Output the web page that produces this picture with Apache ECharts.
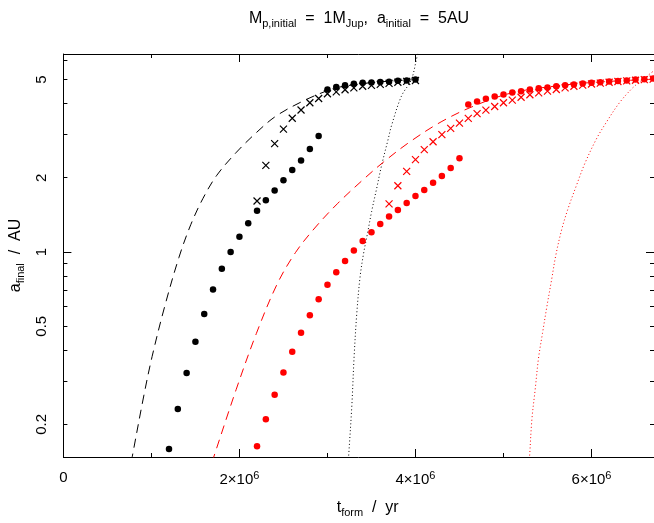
<!DOCTYPE html>
<html>
<head>
<meta charset="utf-8">
<script src="https://cdn.jsdelivr.net/npm/echarts@6/dist/echarts.min.js"></script>
<style>html,body{margin:0;padding:0;background:#fff}#c{width:654px;height:523px}</style>
</head>
<body>
<div id="c"></div>
<script>
// ---- data (t_form in yr, a_final in AU) ----
const blackDotsT = [1.2e6,1.3e6,1.4e6,1.5e6,1.6e6,1.7e6,1.8e6,1.9e6,2.0e6,2.1e6,2.2e6,2.3e6,2.4e6,2.5e6,2.6e6,2.7e6,2.8e6,2.9e6,3.0e6,3.1e6,3.2e6,3.3e6,3.4e6,3.5e6,3.6e6,3.7e6,3.8e6,3.9e6,4.0e6];
const blackDotsA = [0.159,0.231,0.323,0.433,0.561,0.704,0.855,1.00,1.152,1.307,1.468,1.62,1.777,1.954,2.151,2.35,2.618,2.953,4.555,4.67,4.74,4.815,4.85,4.87,4.89,4.90,4.95,4.96,5.0];

const blackCrossT = [2.2e6,2.3e6,2.4e6,2.5e6,2.6e6,2.7e6,2.8e6,2.9e6,3.0e6,3.1e6,3.2e6,3.3e6,3.4e6,3.5e6,3.6e6,3.7e6,3.8e6,3.9e6,4.0e6];
const blackCrossA = [1.61,2.244,2.75,3.15,3.485,3.763,4.03,4.19,4.38,4.46,4.55,4.63,4.70,4.74,4.78,4.83,4.88,4.92,4.96];

const redDotsT = [2.2e6,2.3e6,2.4e6,2.5e6,2.6e6,2.7e6,2.8e6,2.9e6,3.0e6,3.1e6,3.2e6,3.3e6,3.4e6,3.5e6,3.6e6,3.7e6,3.8e6,3.9e6,4.0e6,4.1e6,4.2e6,4.3e6,4.4e6,4.5e6,
  4.6e6,4.7e6,4.8e6,4.9e6,5.0e6,5.1e6,5.2e6,5.3e6,5.4e6,5.5e6,5.6e6,5.7e6,5.8e6,5.9e6,6.0e6,6.1e6,6.2e6,6.3e6,6.4e6,6.5e6,6.6e6,6.7e6];
const redDotsA = [0.163,0.210,0.264,0.325,0.394,0.470,0.554,0.643,0.737,0.828,0.92,1.015,1.107,1.202,1.30,1.394,1.48,1.58,1.686,1.782,1.908,2.035,2.19,2.40,
  3.96,4.08,4.18,4.27,4.35,4.43,4.49,4.56,4.61,4.65,4.70,4.74,4.78,4.82,4.85,4.88,4.91,4.94,4.96,5.0,5.02,5.05];

const redCrossT = [3.7e6,3.8e6,3.9e6,4.0e6,4.1e6,4.2e6,4.3e6,4.4e6,4.5e6,4.6e6,4.7e6,4.8e6,4.9e6,5.0e6,5.1e6,5.2e6,5.3e6,5.4e6,5.5e6,5.6e6,5.7e6,5.8e6,5.9e6,6.0e6,6.1e6,6.2e6,6.3e6,6.4e6,6.5e6,6.6e6,6.7e6];
const redCrossA = [1.566,1.856,2.123,2.37,2.60,2.80,2.99,3.17,3.33,3.48,3.64,3.76,3.89,4.03,4.13,4.24,4.34,4.42,4.49,4.56,4.63,4.70,4.75,4.80,4.84,4.88,4.91,4.94,4.97,5.00,5.02];

const blackDashT = [0.770e6,0.792e6,0.913e6,1.008e6,1.149e6,1.312e6,1.447e6,1.586e6,1.743e6,1.967e6,2.193e6,2.417e6,2.721e6,2.964e6,3.119e6,3.50e6,4.0e6];
const blackDashA = [0.14,0.1545,0.2607,0.377,0.598,0.949,1.29,1.65,2.047,2.54,3.05,3.56,4.09,4.46,4.65,4.86,5.0];

const redDashT = [1.688e6,1.708e6,1.963e6,2.193e6,2.429e6,2.636e6,2.856e6,3.118e6,3.419e6,3.637e6,3.930e6,4.291e6,4.662e6,5.098e6,5.642e6,6.09e6,6.71e6];
const redDashA = [0.14,0.1475,0.277,0.468,0.742,0.994,1.251,1.576,1.985,2.316,2.786,3.37,3.905,4.42,4.73,4.89,5.02];

const blackDotLineT = [3.235e6,3.240e6,3.277e6,3.303e6,3.333e6,3.370e6,3.409e6,3.456e6,3.502e6,3.559e6,3.615e6,3.690e6,3.727e6,3.840e6,3.953e6,4.009e6,4.03e6];
const blackDotLineA = [0.14,0.1475,0.238,0.377,0.562,0.789,0.98,1.195,1.46,1.81,2.244,2.87,3.246,4.28,5.0,6.0,6.5];

const redDotLineT = [5.29e6,5.296e6,5.323e6,5.360e6,5.398e6,5.443e6,5.492e6,5.548e6,5.593e6,5.661e6,5.735e6,5.830e6,5.923e6,6.055e6,6.167e6,6.318e6,6.468e6,6.580e6,6.70e6];
const redDotLineA = [0.14,0.1475,0.210,0.277,0.371,0.468,0.598,0.777,0.964,1.232,1.505,1.866,2.28,2.87,3.35,4.03,4.63,5.0,5.4];

const xMajorTicks = [0,2e6,4e6,6e6];
const xMinorTicks = [1e6,3e6,5e6];
const yLabelTicks = [0.2,0.5,1,2,5];
const yMajorTicks = [1];
const yMinorTicks = [0.2,0.3,0.4,0.5,0.6,0.7,0.8,0.9,2,3,4,5,6];

// ---- chart ----
const FONT = 'Liberation Sans';
const zip = (t, a) => t.map((v, i) => [v, a[i]]);
const crossPath = 'path://M0,0L10,10M10,0L0,10';

const X_MIN = 0, X_MAX = 6.71e6, Y_MIN = 0.1475, Y_MAX = 6.35;
const subStyle = {fontSize: 11, fontFamily: FONT, color: '#000', padding: [10,0,0,0]};

function xAxis(pos, ticks, len, showLine, labels) {
  return {
    type: 'value', position: pos, min: X_MIN, max: X_MAX,
    axisLine: {show: showLine, onZero: false, lineStyle: {color: '#000', width: 1}},
    axisTick: {show: true, inside: true, length: len, customValues: ticks, lineStyle: {color: '#000', width: 1}},
    axisLabel: labels ? {
      show: true, customValues: xMajorTicks, margin: 13, color: '#000', fontFamily: FONT, fontSize: 15,
      formatter: v => v === 0 ? '0' : (v / 1e6) + '×10{sup|6}',
      rich: {sup: {fontSize: 11, fontFamily: FONT, color: '#000', verticalAlign: 'top', padding: [0,0,9,0]}}
    } : {show: false},
    splitLine: {show: false},
    name: labels ? 't{sub|form}  /  yr' : '',
    nameLocation: 'middle', nameGap: 40,
    nameTextStyle: {fontFamily: FONT, fontSize: 16, color: '#000', padding: [0,0,0,18], rich: {sub: subStyle}}
  };
}
function yAxis(pos, ticks, len, showLine, labels) {
  return {
    type: 'log', logBase: 10, position: pos, min: Y_MIN, max: Y_MAX,
    axisLine: {show: showLine, onZero: false, lineStyle: {color: '#000', width: 1}},
    axisTick: {show: true, inside: true, length: len, customValues: ticks, lineStyle: {color: '#000', width: 1}},
    axisLabel: labels ? {
      show: true, customValues: yLabelTicks, rotate: 90, margin: 14, color: '#000', fontFamily: FONT, fontSize: 15,
      formatter: v => String(+(+v).toPrecision(3))
    } : {show: false},
    splitLine: {show: false}, minorTick: {show: false},
    name: labels ? 'a{sub|final}  /  AU' : '',
    nameLocation: 'middle', nameGap: 34,
    nameTextStyle: {fontFamily: FONT, fontSize: 16, color: '#000', padding: [0,0,0,0], rich: {sub: subStyle}}
  };
}

function scatter(name, data, color, cross) {
  return {
    name, type: 'scatter', xAxisIndex: 0, yAxisIndex: 0, data,
    symbol: cross ? crossPath : 'circle', symbolSize: cross ? 7 : 6.5,
    itemStyle: cross ? {color: 'rgba(0,0,0,0)', borderColor: color, borderWidth: 1.2, opacity: 1} : {color: color, opacity: 1},
    emphasis: {disabled: true}, z: 3, clip: false
  };
}
function line(name, data, color, dash) {
  return {
    name, type: 'line', xAxisIndex: 0, yAxisIndex: 0, data, showSymbol: false, symbol: 'none',
    smooth: 0.35, clip: true,
    lineStyle: {color: color, width: 1, type: dash},
    emphasis: {disabled: true}, z: 2
  };
}

const chart = echarts.init(document.getElementById('c'), null, {renderer: 'canvas'});
chart.setOption({
  animation: false,
  backgroundColor: '#fff',
  title: {
    text: 'M{sub|p,initial}  =  1M{sub|Jup},  a{sub|initial}  =  5AU',
    left: 354, top: 3, textAlign: 'center',
    textStyle: {fontFamily: FONT, fontSize: 16, fontWeight: 'normal', color: '#000', rich: {sub: subStyle}}
  },
  grid: {left: 59, top: 54, right: -1, bottom: 61, containLabel: false},
  xAxis: [
    xAxis('bottom', xMajorTicks, 8, true, true),
    xAxis('bottom', xMinorTicks, 4, false, false),
    xAxis('top', xMajorTicks, 8, true, false),
    xAxis('top', xMinorTicks, 4, false, false)
  ],
  yAxis: [
    yAxis('left', yMajorTicks, 8, true, true),
    yAxis('left', yMinorTicks, 4, false, false),
    yAxis('right', yMajorTicks, 8, true, false),
    yAxis('right', yMinorTicks, 4, false, false)
  ],
  series: [
    line('black dashed', zip(blackDashT, blackDashA), '#000', [9, 6]),
    line('black dotted', zip(blackDotLineT, blackDotLineA), '#000', [1, 2.5]),
    line('red dashed', zip(redDashT, redDashA), '#ff0000', [9, 6]),
    line('red dotted', zip(redDotLineT, redDotLineA), '#ff0000', [1, 2.5]),
    scatter('black dots', zip(blackDotsT, blackDotsA), '#000', false),
    scatter('black crosses', zip(blackCrossT, blackCrossA), '#000', true),
    scatter('red dots', zip(redDotsT, redDotsA), '#ff0000', false),
    scatter('red crosses', zip(redCrossT, redCrossA), '#ff0000', true)
  ]
});
</script>
</body>
</html>
